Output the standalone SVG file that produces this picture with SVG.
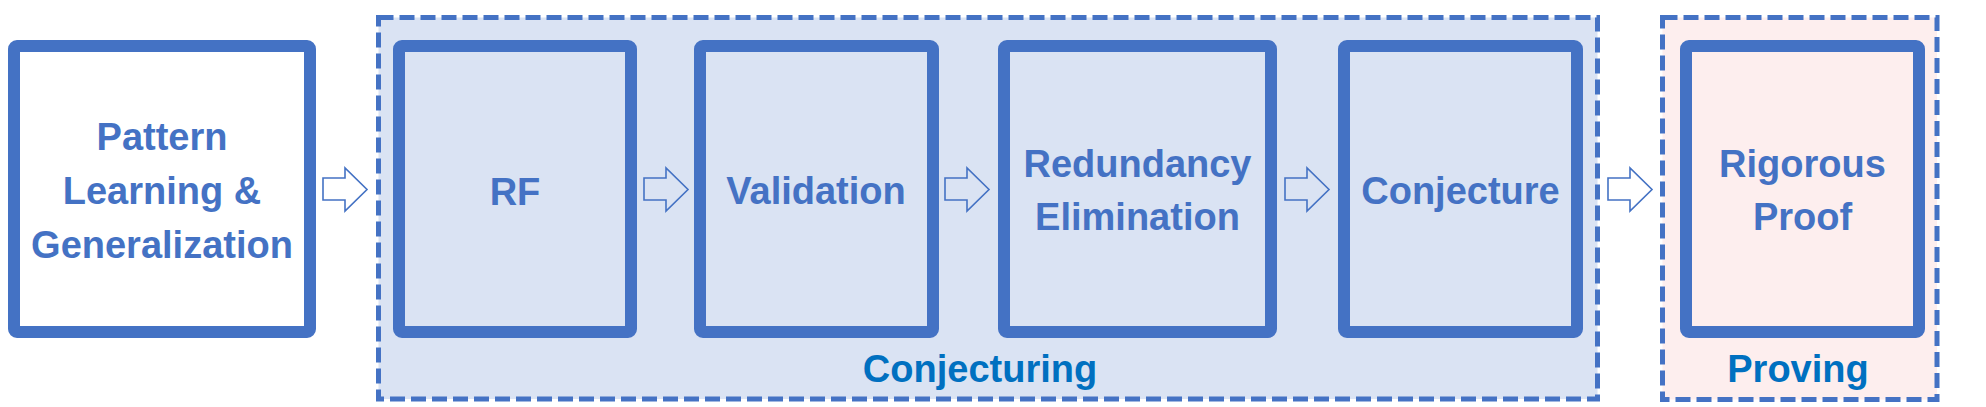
<svg xmlns="http://www.w3.org/2000/svg" width="1986" height="407" viewBox="0 0 1986 407">
<defs>
<style>
.grp{stroke:#4472c4;stroke-width:5;stroke-dasharray:15 6}
.node{fill:none;stroke:#4472c4;stroke-width:12}
.t{font-family:"Liberation Sans",Arial,sans-serif;font-weight:bold;font-size:38px;fill:#4472c4;text-anchor:middle}
.lbl{font-family:"Liberation Sans",Arial,sans-serif;font-weight:bold;font-size:38px;fill:#0070c0;text-anchor:middle}
.arr{fill:none;stroke:#4472c4;stroke-width:1.6;stroke-linejoin:miter}
</style>
<polygon id="arrowShape" points="0,178 22,178 22,168 44,189.5 22,211 22,200 0,200"/>
</defs>
<rect width="1986" height="407" fill="#ffffff"/>
<g id="group-conjecturing">
<rect class="grp" x="378.5" y="17.5" width="1219" height="381.5" fill="#dae3f3"/>
<text class="lbl" x="980" y="382">Conjecturing</text>
</g>
<g id="group-proving">
<rect class="grp" x="1662.5" y="17.5" width="274.5" height="382" fill="#fdeeee"/>
<text class="lbl" x="1798" y="382">Proving</text>
</g>
<g id="node-pattern">
<rect class="node" x="14" y="46" width="296" height="286" rx="3" fill="#ffffff" style="fill:#ffffff"/>
<text class="t" x="162" y="150">Pattern</text>
<text class="t" x="162" y="204">Learning &amp;</text>
<text class="t" x="162" y="258">Generalization</text>
</g>
<g id="node-rf">
<rect class="node" x="399" y="46" width="232" height="286" rx="3"/>
<text class="t" x="515" y="205">RF</text>
</g>
<g id="node-validation">
<rect class="node" x="700" y="46" width="233" height="286" rx="3"/>
<text class="t" x="816" y="204">Validation</text>
</g>
<g id="node-redundancy">
<rect class="node" x="1004" y="46" width="267" height="286" rx="3"/>
<text class="t" x="1137.5" y="177">Redundancy</text>
<text class="t" x="1137.5" y="230">Elimination</text>
</g>
<g id="node-conjecture">
<rect class="node" x="1344" y="46" width="233" height="286" rx="3"/>
<text class="t" x="1460.5" y="204">Conjecture</text>
</g>
<g id="node-proof">
<rect class="node" x="1686" y="46" width="233" height="286" rx="3"/>
<text class="t" x="1802.5" y="177">Rigorous</text>
<text class="t" x="1802.5" y="230">Proof</text>
</g>
<g id="connectors">
<use href="#arrowShape" class="arr" x="323"/>
<use href="#arrowShape" class="arr" x="644"/>
<use href="#arrowShape" class="arr" x="945"/>
<use href="#arrowShape" class="arr" x="1285"/>
<use href="#arrowShape" class="arr" x="1608"/>
</g>
</svg>
